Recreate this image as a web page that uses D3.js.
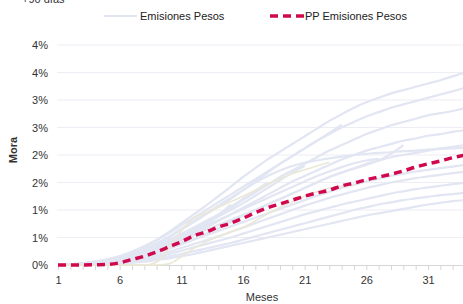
<!DOCTYPE html>
<html>
<head>
<meta charset="utf-8">
<script src="https://cdn.jsdelivr.net/npm/d3@7"></script>
<style>
    body { margin: 0; background: #fff; }
    svg { display: block; font-family: 'Liberation Sans', Arial, sans-serif; }
</style>
</head>
<body>
<div class="canvas"></div>
<script>
'use strict';

// meses 1..34
const months = d3.range(1, 35);

const yTicks = [0, 0.5, 1, 1.5, 2, 2.5, 3, 3.5, 4];
const yTickLabels = ['0%', '1%', '1%', '2%', '2%', '3%', '3%', '4%', '4%'];
const xTickLabels = [1, 6, 11, 16, 21, 26, 31];

// emisiones individuales (% mora por mes desde el mes 1)
const em01 = [0, 0.01, 0.03, 0.06, 0.1, 0.16, 0.24, 0.34, 0.46, 0.6, 0.76, 0.92, 1.08, 1.25, 1.42, 1.6, 1.76, 1.92, 2.06, 2.2, 2.34, 2.48, 2.62, 2.74, 2.86, 2.96, 3.04, 3.12, 3.18, 3.24, 3.3, 3.36, 3.43, 3.5];
const em02 = [0, 0.01, 0.02, 0.05, 0.09, 0.14, 0.2, 0.28, 0.38, 0.5, 0.64, 0.78, 0.92, 1.06, 1.2, 1.36, 1.52, 1.68, 1.84, 1.98, 2.12, 2.26, 2.38, 2.5, 2.6, 2.7, 2.78, 2.86, 2.92, 2.98, 3.04, 3.1, 3.16, 3.22];
const em03 = [0, 0.01, 0.02, 0.04, 0.07, 0.11, 0.16, 0.22, 0.3, 0.4, 0.52, 0.64, 0.76, 0.9, 1.04, 1.18, 1.32, 1.46, 1.6, 1.72, 1.84, 1.96, 2.08, 2.18, 2.28, 2.38, 2.46, 2.54, 2.6, 2.66, 2.72, 2.76, 2.8, 2.85];
const em04 = [0, 0, 0.02, 0.04, 0.06, 0.1, 0.14, 0.2, 0.27, 0.35, 0.45, 0.56, 0.68, 0.8, 0.92, 1.04, 1.16, 1.28, 1.4, 1.52, 1.62, 1.72, 1.82, 1.92, 2.0, 2.08, 2.14, 2.2, 2.26, 2.3, 2.35, 2.38, 2.42, 2.45];
const em05 = [0, 0, 0.01, 0.03, 0.05, 0.08, 0.12, 0.17, 0.23, 0.3, 0.38, 0.47, 0.57, 0.67, 0.78, 0.9, 1.0, 1.1, 1.2, 1.3, 1.4, 1.5, 1.6, 1.68, 1.76, 1.84, 1.9, 1.96, 2.0, 2.04, 2.08, 2.12, 2.15, 2.18];
const em06 = [0, 0.01, 0.03, 0.06, 0.1, 0.15, 0.22, 0.3, 0.4, 0.52, 0.66, 0.8, 0.94, 1.08, 1.22, 1.36, 1.5, 1.62, 1.72, 1.8, 1.86, 1.9, 1.94, 1.97, 2.0, 2.02, 2.04, 2.05, 2.07, 2.08, 2.1, 2.11, 2.12, 2.13];
const em07 = [0, 0, 0.01, 0.02, 0.04, 0.06, 0.09, 0.13, 0.18, 0.24, 0.31, 0.38, 0.45, 0.52, 0.6, 0.68, 0.76, 0.84, 0.92, 1.0, 1.08, 1.15, 1.22, 1.28, 1.34, 1.4, 1.45, 1.5, 1.54, 1.58, 1.61, 1.64, 1.67, 1.69];
const em08 = [0, 0, 0.01, 0.02, 0.03, 0.05, 0.08, 0.11, 0.15, 0.2, 0.26, 0.32, 0.38, 0.44, 0.5, 0.57, 0.64, 0.71, 0.78, 0.85, 0.92, 0.98, 1.04, 1.1, 1.15, 1.2, 1.25, 1.3, 1.34, 1.38, 1.41, 1.44, 1.47, 1.49];
const em09 = [0, 0, 0, 0.01, 0.02, 0.04, 0.06, 0.09, 0.12, 0.16, 0.2, 0.25, 0.3, 0.35, 0.4, 0.46, 0.52, 0.58, 0.64, 0.7, 0.76, 0.82, 0.88, 0.94, 1.0, 1.05, 1.1, 1.14, 1.18, 1.21, 1.24, 1.27, 1.29, 1.31];
const em10 = [0, 0, 0.01, 0.03, 0.05, 0.08, 0.12, 0.17, 0.23, 0.3, 0.38, 0.46, 0.54, 0.62, 0.7, 0.78, 0.86, 0.94, 1.02, 1.1, 1.18, 1.26, 1.33, 1.4, 1.46, 1.52, 1.57, 1.62, 1.66, 1.7, 1.73, 1.76, 1.79, 1.82];
const em11 = [0, 0.01, 0.02, 0.04, 0.07, 0.11, 0.16, 0.22, 0.29, 0.37, 0.46, 0.55, 0.64, 0.73, 0.82, 0.91, 1.0, 1.1, 1.2, 1.3, 1.4, 1.5, 1.6, 1.68, 1.75, 1.82, 1.9, 2.02, 2.18];
const em12 = [0, 0.01, 0.03, 0.05, 0.08, 0.12, 0.18, 0.25, 0.33, 0.42, 0.52, 0.62, 0.72, 0.82, 0.92, 1.02, 1.12, 1.22, 1.32, 1.42, 1.52, 1.62, 1.7, 1.78, 1.85, 1.9, 1.93];
const em13 = [0, 0.01, 0.03, 0.06, 0.1, 0.16, 0.24, 0.34, 0.45, 0.58, 0.72, 0.86, 1.0, 1.14, 1.28, 1.42, 1.56, 1.7, 1.84, 1.98, 2.12, 2.26, 2.4, 2.55];
const em14 = [0, 0.01, 0.02, 0.05, 0.08, 0.13, 0.19, 0.26, 0.34, 0.43, 0.53, 0.64, 0.76, 0.88, 1.0, 1.12, 1.26, 1.4, 1.54, 1.68, 1.8];
const em15 = [0, 0.01, 0.03, 0.06, 0.1, 0.15, 0.21, 0.28, 0.36, 0.46, 0.57, 0.68, 0.8, 0.92, 1.06, 1.2, 1.35, 1.5];
const em16 = [0, 0.01, 0.03, 0.05, 0.08, 0.12, 0.17, 0.23, 0.3, 0.38, 0.48, 0.6, 0.74, 0.9, 1.1];
const em17 = [0, 0, 0.01, 0.03, 0.05, 0.08, 0.12, 0.17, 0.23, 0.3, 0.4, 0.54, 0.7];
const em18 = [0, 0.01, 0.02, 0.04, 0.07, 0.11, 0.16, 0.23, 0.32, 0.45];
const em19 = [0, 0, 0, 0, 0.01, 0.02, 0.04, 0.06, 0.09, 0.12, 0.16, 0.2, 0.25, 0.3, 0.35, 0.4, 0.45, 0.5, 0.55, 0.6, 0.65, 0.7, 0.75, 0.8, 0.85, 0.9, 0.94, 0.98, 1.02, 1.06, 1.1, 1.13, 1.16, 1.18];

// dos emisiones recientes (tono beige)
const emB1 = [0, 0, 0, 0, 0, 0, 0, 0, 0.05, 0.3, 0.62, 0.85, 0.95, 1.05, 1.15, 1.25, 1.36, 1.47, 1.57, 1.66, 1.73, 1.8, 1.87];
const emB2 = [0, 0, 0, 0, 0, 0, 0, 0, 0, 0.02, 0.15, 0.3, 0.42, 0.52, 0.6, 0.68, 0.8, 0.93, 1.05, 1.15, 1.25, 1.33, 1.4, 1.43, 1.45];

// promedio ponderado
const ppPesos = [0, 0, 0, 0.005, 0.01, 0.04, 0.1, 0.16, 0.24, 0.33, 0.42, 0.53, 0.6, 0.69, 0.76, 0.85, 0.95, 1.04, 1.11, 1.18, 1.25, 1.31, 1.36, 1.44, 1.49, 1.55, 1.6, 1.65, 1.71, 1.78, 1.84, 1.89, 1.95, 2.0];

const emisiones = [em01, em02, em03, em04, em05, em06, em07, em08, em09, em10,
    em11, em12, em13, em14, em15, em16, em17, em18, em19];
const emisionesBeige = [emB1, emB2];

const dims = { width: 463, height: 304 };
const margin = { left: 58, right: 0, top: 45, bottom: 39 };

const colours = {
    lavender: '#e2e6f3',
    beige: '#ebe8d6',
    pp: '#d0084d',
    grid: '#ededf5',
    text: '#333'
};

const svg = d3.select('.canvas')
    .append('svg')
    .attr('width', dims.width)
    .attr('height', dims.height);

const x = d3.scaleLinear()
    .domain([1, 34])
    .range([margin.left, 465]);

const y = d3.scaleLinear()
    .domain([0, 4])
    .range([dims.height - margin.bottom, margin.top]);

// título recortado arriba
svg.append('text')
    .attr('x', 22)
    .attr('y', 3)
    .attr('font-size', 11)
    .attr('fill', colours.text)
    .text('+90 días');

// grilla
svg.append('g')
    .selectAll('line')
    .data(yTicks.slice(1))
    .enter().append('line')
    .attr('x1', margin.left - 1)
    .attr('x2', dims.width)
    .attr('y1', d => y(d))
    .attr('y2', d => y(d))
    .attr('stroke', colours.grid)
    .attr('stroke-width', 1);

// eje Y (solo etiquetas)
const yAxis = d3.axisLeft(y)
    .tickValues(yTicks)
    .tickSize(0)
    .tickPadding(10)
    .tickFormat((d, i) => yTickLabels[i]);

const yG = svg.append('g')
    .attr('transform', `translate(${margin.left},0)`)
    .call(yAxis);
yG.select('.domain').remove();
yG.selectAll('text')
    .attr('font-size', 11)
    .attr('font-family', 'Liberation Sans, Arial, sans-serif')
    .attr('fill', colours.text);

// eje X
const xAxis = d3.axisBottom(x)
    .tickValues(months)
    .tickSize(5)
    .tickSizeOuter(0)
    .tickPadding(6)
    .tickFormat(d => xTickLabels.includes(d) ? d : '');

const xG = svg.append('g')
    .attr('transform', `translate(0,${y(0)})`)
    .call(xAxis);
xG.select('.domain').attr('stroke', '#d6d6d6');
xG.selectAll('.tick line').attr('stroke', '#d6d6d6');
xG.selectAll('text')
    .attr('font-size', 11)
    .attr('font-family', 'Liberation Sans, Arial, sans-serif')
    .attr('fill', colours.text);

// títulos de ejes
svg.append('text')
    .attr('x', 262)
    .attr('y', 301)
    .attr('text-anchor', 'middle')
    .attr('font-size', 11)
    .attr('fill', colours.text)
    .text('Meses');

svg.append('text')
    .attr('transform', `translate(17,${(y(0) + y(4)) / 2 - 5}) rotate(-90)`)
    .attr('text-anchor', 'middle')
    .attr('font-size', 11)
    .attr('font-weight', 'bold')
    .attr('fill', colours.text)
    .text('Mora');

const line = d3.line()
    .x((d, i) => x(months[i]))
    .y(d => y(d))
    .curve(d3.curveMonotoneX);

const plot = svg.append('g');

plot.selectAll('path.em')
    .data(emisiones)
    .enter().append('path')
    .attr('class', 'em')
    .attr('d', line)
    .attr('fill', 'none')
    .attr('stroke', colours.lavender)
    .attr('stroke-width', 2.2);

plot.selectAll('path.emb')
    .data(emisionesBeige)
    .enter().append('path')
    .attr('class', 'emb')
    .attr('d', line)
    .attr('fill', 'none')
    .attr('stroke', colours.beige)
    .attr('stroke-width', 1.6);

plot.append('path')
    .datum(ppPesos)
    .attr('d', line)
    .attr('fill', 'none')
    .attr('stroke', colours.pp)
    .attr('stroke-width', 3.5)
    .attr('stroke-dasharray', '8,5');

// leyenda
const legend = svg.append('g').attr('transform', 'translate(0,16)');

legend.append('line')
    .attr('x1', 104).attr('x2', 137)
    .attr('y1', 0).attr('y2', 0)
    .attr('stroke', colours.lavender)
    .attr('stroke-width', 2.2);

legend.append('text')
    .attr('x', 140).attr('y', 4)
    .attr('font-size', 11)
    .attr('fill', '#222')
    .text('Emisiones Pesos');

legend.append('line')
    .attr('x1', 270).attr('x2', 304)
    .attr('y1', 0).attr('y2', 0)
    .attr('stroke', colours.pp)
    .attr('stroke-width', 3.5)
    .attr('stroke-dasharray', '8,5');

legend.append('text')
    .attr('x', 305).attr('y', 4)
    .attr('font-size', 11)
    .attr('fill', '#222')
    .text('PP Emisiones Pesos');
</script>
</body>
</html>
